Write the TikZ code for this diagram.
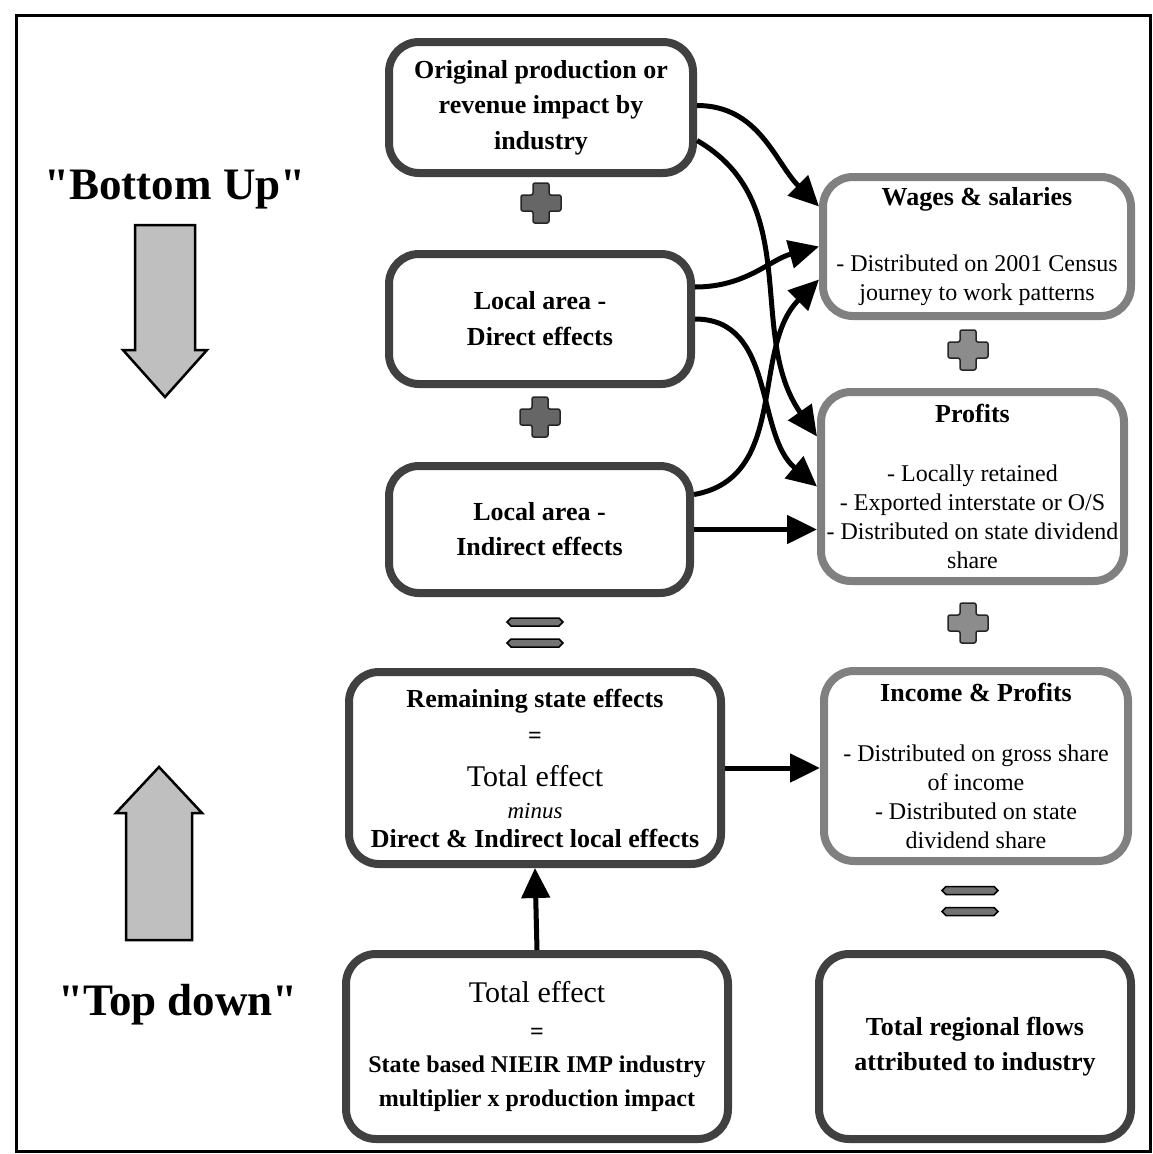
\documentclass[tikz,border=0pt]{standalone}
\usepackage{fontspec}
\setmainfont{Liberation Serif}[Ligatures=TeXOff]
\usetikzlibrary{arrows.meta}

\newcommand{\boxhead}[1]{{\fontsize{26}{29}\selectfont\bfseries #1}}
\newcommand{\boxbold}[1]{{\bfseries #1}}
\newcommand{\boxbig}[1]{{\fontsize{30}{29}\selectfont #1}}
\newcommand{\boxsmall}[1]{{\fontsize{23}{24}\selectfont\itshape #1}}
\newcommand{\plussign}[2]{
  \draw [line width=1.5pt, draw=black!85, fill=#2, rounded corners=2pt]
    (#1) ++(-8,20) -- ++(16,0) -- ++(0,-12) -- ++(12,0) -- ++(0,-16)
    -- ++(-12,0) -- ++(0,-12) -- ++(-16,0) -- ++(0,12) -- ++(-12,0)
    -- ++(0,16) -- ++(12,0) -- cycle;
}
\newcommand{\equalsign}[1]{
  \foreach \dy in {10.5,-10.5}
    \draw [line width=1.5pt, fill=black!55] (#1) ++(-28,\dy) -- ++(4,4) -- ++(48,0)
      -- ++(4,-4) -- ++(-4,-4) -- ++(-48,0) -- cycle;
}

\begin{document}
\begin{tikzpicture}[x=1pt, y=1pt,
    box/.style={draw=black!75, line width=8pt, rounded corners=30pt, fill=white,
      align=center, inner sep=0pt, font=\fontsize{24}{29}\selectfont},
    lightbox/.style={box, draw=black!50},
    conn/.style={-{Triangle[length=30pt,width=28pt]}, line width=5pt},
    sidelabel/.style={font=\fontsize{45}{50}\selectfont\bfseries},
    bigarrow/.style={draw=black, line width=2.5pt, fill=black!25}]
  \useasboundingbox (0,0) rectangle (1152,-1154);
  \draw [line width=3pt] (16,-15) rectangle (1150,-1151);

  % direction of reading
  \node [sidelabel] (bottomup) at (175,-190) {"Bottom Up"};
  \node [sidelabel] (topdown) at (178,-1005) {"Top down"};
  \draw [bigarrow] (135,-225) -- (195,-225) -- (195,-350) -- (207,-350)
    -- (165,-397) -- (123,-350) -- (135,-350) -- cycle;
  \draw [bigarrow] (126,-940) -- (192,-940) -- (192,-813) -- (202,-813)
    -- (159,-767) -- (116,-813) -- (126,-813) -- cycle;

  % left column
  \node [box, minimum width=304pt, minimum height=131pt] (orig) at (541,-107.5)
    {\boxhead{Original production or}\\[6.5pt]\boxhead{revenue impact by}\\[6.5pt]\boxhead{industry}};
  \node [box, minimum width=302pt, minimum height=130pt] (direct) at (540,-319)
    {\boxhead{Local area -}\\[7pt]\boxhead{Direct effects}};
  \node [box, minimum width=301pt, minimum height=127pt] (indirect) at (539.5,-529.5)
    {\boxhead{Local area -}\\[6pt]\boxhead{Indirect effects}};
  \node [box, minimum width=372pt, minimum height=192pt] (remaining) at (535,-768)
    {\boxhead{Remaining state effects}\\[7pt]\boxbold{=}\\[14pt]\boxbig{Total effect}\\[3pt]%
     \boxsmall{minus}\\\boxhead{Direct \& Indirect local effects}};
  \node [box, minimum width=382pt, minimum height=185pt] (total) at (537,-1046.5)
    {\boxbig{Total effect}\\[8pt]\boxbold{=}\\[4pt]\boxbold{State based NIEIR IMP industry}\\[5pt]%
     \boxbold{multiplier x production impact}};

  % right column
  \node [lightbox, minimum width=308pt, minimum height=139pt] (wages) at (977,-246.5)
    {\boxhead{Wages \& salaries}\\[37pt]- Distributed on 2001 Census\\journey to work patterns};
  \node [lightbox, minimum width=303pt, minimum height=189pt] (profits) at (972.5,-486.5)
    {\boxhead{Profits}\\[30pt]- Locally retained\\- Exported interstate or O/S\\%
     - Distributed on state dividend\\share};
  \node [lightbox, minimum width=304pt, minimum height=190pt] (income) at (976,-766)
    {\boxhead{Income \& Profits}\\[31pt]- Distributed on gross share\\of income\\%
     - Distributed on state\\dividend share};
  \node [box, minimum width=312pt, minimum height=185pt] (regional) at (975,-1046.5)
    {\boxhead{Total regional flows}\\[6pt]\boxhead{attributed to industry}};

  \plussign{541,-203}{black!60}
  \plussign{540,-417}{black!60}
  \plussign{968,-350}{black!45}
  \plussign{968,-623}{black!45}
  \equalsign{535,-632.5}
  \equalsign{970,-901}

  \draw [conn] ([yshift=2pt]orig.east) to[out=0,in=135] ([yshift=40pt]wages.west);
  \draw [conn] ([yshift=-33pt]orig.east) to[out=-30,in=125] ([yshift=50pt]profits.west);
  \draw [conn] ([yshift=32pt]direct.east) to[out=0,in=195] (wages.west);
  \draw [conn] (direct.east) to[out=0,in=140] (profits.west);
  \draw [conn] ([yshift=35pt]indirect.east) to[out=10,in=225] ([yshift=-33pt]wages.west);
  \draw [conn] (indirect.east) -- (indirect.east -| profits.west);
  \draw [conn] (remaining.east) -- (remaining.east -| income.west);
  \draw [conn] (total.north) -- (remaining.south);
\end{tikzpicture}
\end{document}
